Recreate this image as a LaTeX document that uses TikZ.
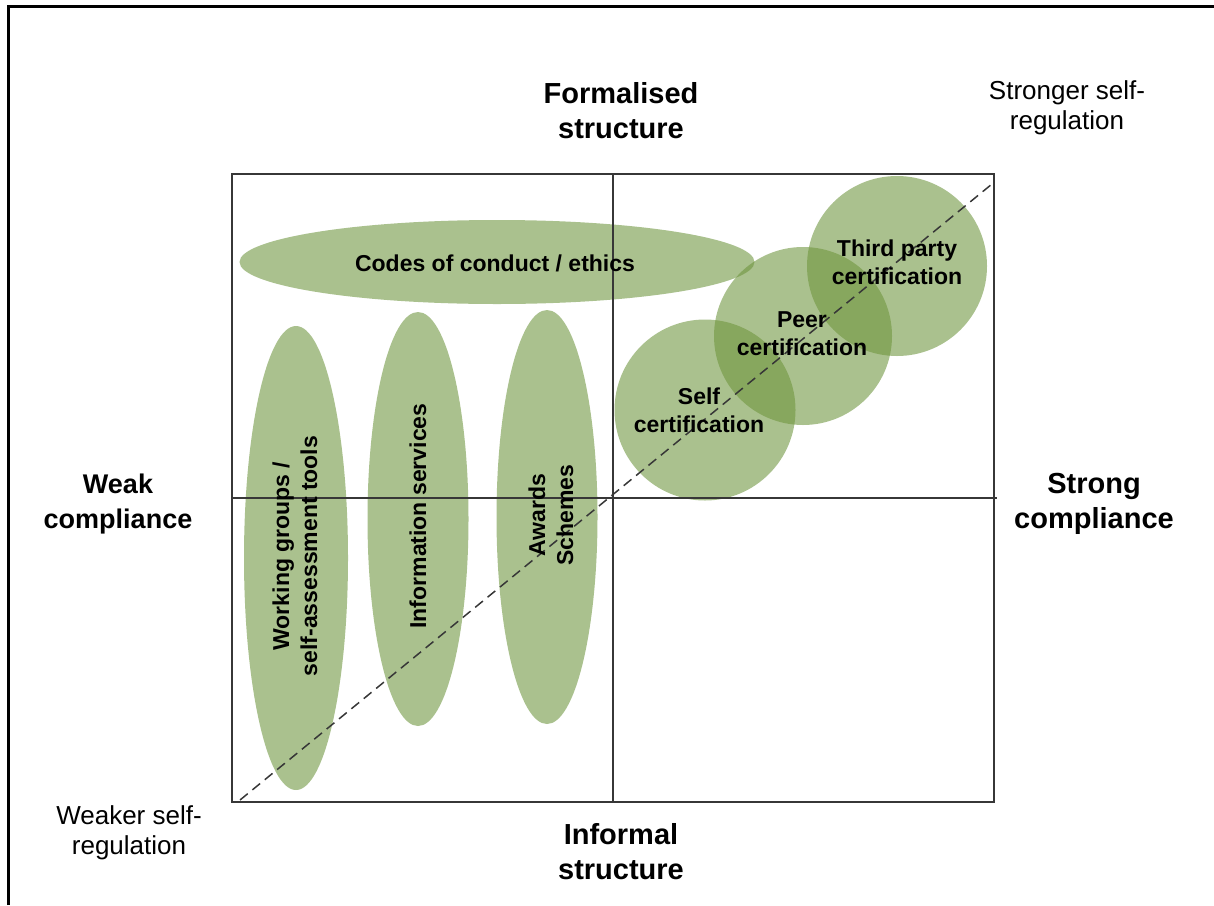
\documentclass[tikz,border=0pt]{standalone}
\usepackage{fontspec}
\setmainfont{Liberation Sans}
\usetikzlibrary{shapes.geometric}
\definecolor{ellfill}{RGB}{170,193,142}
\definecolor{circfill}{RGB}{109,148,60}
\definecolor{gridcol}{RGB}{55,55,55}
\begin{document}
\begin{tikzpicture}[x=1pt,y=-1pt,
  ell/.style={ellipse, fill=ellfill, draw=none, inner sep=0pt},
  circ/.style={circle, fill=circfill, fill opacity=0.58, draw=none, inner sep=0pt},
  inlab/.style={font=\fontsize{23}{28}\selectfont\bfseries, align=center, text=black, inner sep=0pt},
  outlab/.style={font=\fontsize{29}{35}\selectfont\bfseries, align=center, inner sep=0pt},
  reglab/.style={font=\fontsize{26}{30}\selectfont, align=center, inner sep=0pt},
  gridline/.style={draw=gridcol, line width=1.4pt},
  diag/.style={draw=gridcol, line width=1.5pt, dash pattern=on 10pt off 6pt},
  frame/.style={draw=black, line width=3pt}
]
\useasboundingbox (0,0) rectangle (1214,905);
% outer frame (top and left edges only)
\coordinate (fTL) at (8,6);
\coordinate (fTR) at (1214,6);
\coordinate (fBL) at (8,905);
\draw[frame] (fBL) -- (fTL) -- (fTR);

% ellipses
\node[ell, minimum width=515pt, minimum height=84pt] (codes) at (497,262) {};
\node[ell, minimum width=104pt, minimum height=464pt] (work) at (296,558) {};
\node[ell, minimum width=101pt, minimum height=414pt] (info) at (418,519) {};
\node[ell, minimum width=101pt, minimum height=414pt] (awards) at (547,517) {};

% circles
\node[circ, minimum size=181pt] (selfc) at (705,410) {};
\node[circ, minimum size=178pt] (peerc) at (803,336) {};
\node[circ, minimum size=180pt] (thirdc) at (897,266) {};

% box and axes
\coordinate (bTL) at (232,174);
\coordinate (bBR) at (994,802);
\coordinate (vT) at (613,174);
\coordinate (vB) at (613,802);
\coordinate (hL) at (232,498);
\coordinate (hR) at (997,498);
\coordinate (dS) at (240,800);
\coordinate (dE) at (992,184);
\draw[gridline] (bTL) rectangle (bBR);
\draw[gridline] (vT) -- (vB);
\draw[gridline] (hL) -- (hR);
\draw[diag] (dS) -- (dE);

% inner labels
\node[inlab] (codesl) at (495,263) {Codes of conduct / ethics};
\node[inlab, rotate=90] (workl) at (295,556) {Working groups /\\self-assessment tools};
\node[inlab, rotate=90] (infol) at (418,516) {Information services};
\node[inlab, rotate=90] (awardsl) at (551,515) {Awards\\Schemes};
\node[inlab] (thirdl) at (897,262) {Third party\\certification};
\node[inlab] (peerl) at (802,334) {Peer\\certification};
\node[inlab] (selfl) at (699,410) {Self\\certification};

% outer labels
\node[outlab] (formal) at (621,111) {Formalised\\structure};
\node[outlab] (informal) at (621,852) {Informal\\structure};
\node[outlab, font=\fontsize{27}{35}\selectfont\bfseries] (weak) at (118,504) {Weak\\compliance};
\node[outlab] (strong) at (1094,504) {Strong\\compliance};
\node[reglab] (stronger) at (1067,108) {Stronger self-\\regulation};
\node[reglab] (weaker) at (129,833) {Weaker self-\\regulation};
\end{tikzpicture}
\end{document}
